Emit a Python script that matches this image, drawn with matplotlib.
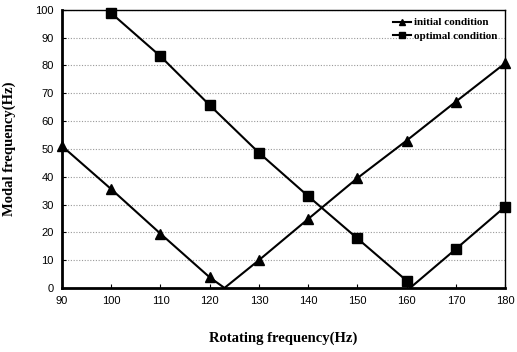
import matplotlib.pyplot as plt

# values
rot_init = [90, 100, 110, 120, 123, 130, 140, 150, 160, 170, 180]
modal_init = [51, 35.5, 19.5, 3.8, 0, 10, 24.8, 39.5, 53, 67, 80.8]

rot_opt = [100, 110, 120, 130, 140, 150, 160, 160.7, 170, 180]
modal_opt = [98.8, 83.3, 65.7, 48.6, 33, 17.8, 2.6, 0, 14, 29.2]

xticks = [90, 100, 110, 120, 130, 140, 150, 160, 170, 180]
yticks = [0, 10, 20, 30, 40, 50, 60, 70, 80, 90, 100]

fig = plt.figure(figsize=(5.17, 3.52), dpi=100)
ax = fig.add_axes([0.12, 0.182, 0.857, 0.79])

# markers only on measured points, not on the zero crossing
mk_init = [i for i in range(len(rot_init)) if modal_init[i] != 0]
mk_opt = [i for i in range(len(rot_opt)) if modal_opt[i] != 0]

ax.plot(rot_init, modal_init, color='black', lw=1.5, marker='^', ms=7,
        markevery=mk_init, label='initial condition', clip_on=False, zorder=3)
ax.plot(rot_opt, modal_opt, color='black', lw=1.5, marker='s', ms=6.5,
        markevery=mk_opt, label='optimal condition', clip_on=False, zorder=3)

ax.set_xlim(90, 180)
ax.set_ylim(0, 100)
ax.set_xticks(xticks)
ax.set_yticks(yticks)
ax.tick_params(direction='in', length=3, labelsize=8, pad=6)
for lab in ax.get_xticklabels() + ax.get_yticklabels():
    lab.set_family('Liberation Sans')

ax.grid(True, axis='y', linestyle=(0, (1, 1.5)), color='#999999', lw=0.8)
ax.spines['left'].set_linewidth(2)
ax.spines['bottom'].set_linewidth(2)
ax.spines['top'].set_linestyle((0, (1, 1)))
ax.spines['right'].set_linestyle((0, (1, 1)))
ax.spines['top'].set_linewidth(1)
ax.spines['right'].set_linewidth(1)

ax.set_xlabel('Rotating frequency(Hz)', family='Liberation Serif',
              fontweight='bold', fontsize=10.5, labelpad=18)
ax.set_ylabel('Modal frequency(Hz)', family='Liberation Serif',
              fontweight='bold', fontsize=10.5, labelpad=14)

ax.legend(loc='upper right', frameon=False, handlelength=1.6,
          prop={'family': 'Liberation Serif', 'weight': 'bold', 'size': 8},
          markerscale=0.7, borderaxespad=0.3, labelspacing=0.3, handletextpad=0.3)

fig.savefig('out.png', dpi=100)
